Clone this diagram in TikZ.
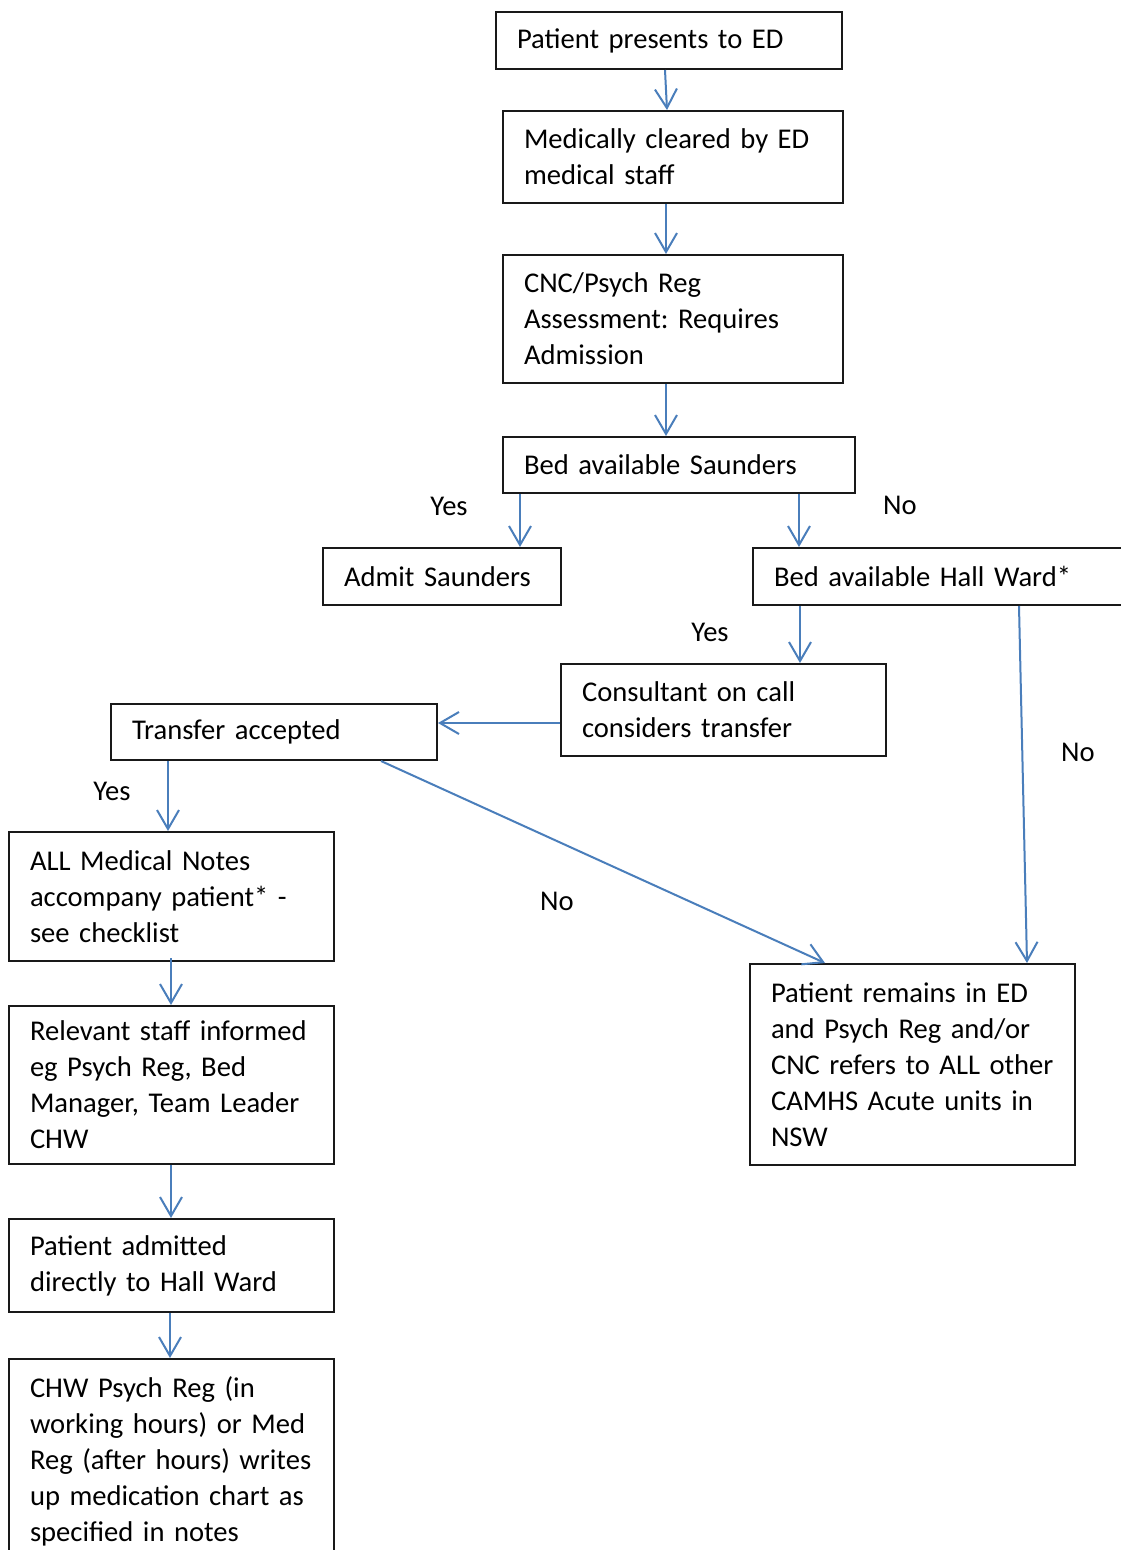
\documentclass[tikz,border=0pt]{standalone}
\usepackage{fontspec}
\setmainfont{Carlito}
\usetikzlibrary{arrows.meta}
\definecolor{conn}{RGB}{74,126,187}
\begin{document}
\frenchspacing
\begin{tikzpicture}[x=1pt,y=-1pt,
  box/.style={draw=black!90, line width=2pt, anchor=north west, align=left,
    inner xsep=21pt, inner ysep=0pt, font=\fontsize{28.6}{36}\selectfont\frenchspacing},
  lbl/.style={font=\fontsize{28.6}{36}\selectfont, inner sep=0pt},
  conn/.style={draw=conn, line width=2pt, -{Straight Barb[length=19pt,width=22pt,line width=2pt]}}]
\useasboundingbox[fill=white] (0,0) rectangle (1120,1550);
\newcommand\bx[6]{\node[box, text width=#4pt-42pt, minimum height=#5pt] (#1) at (#2,#3) {#6};}
\bx{b1}{495}{11}{346}{57}{\mbox{Patient presents to ED}}
\bx{b2}{502}{110}{340}{92}{\mbox{Medically cleared by ED}\\ \mbox{medical staff}}
\bx{b3}{502}{254}{340}{128}{\mbox{CNC/Psych Reg}\\ \mbox{Assessment: Requires}\\ \mbox{Admission}}
\bx{b4}{502}{436}{352}{56}{\mbox{Bed available Saunders}}
\bx{b5}{322}{547}{238}{57}{\mbox{Admit Saunders}}
\bx{b6}{752}{547}{380}{57}{\mbox{Bed available Hall Ward*}}
\bx{b7}{560}{663}{325}{92}{\mbox{Consultant on call}\\ \mbox{considers transfer}}
\bx{b8}{110}{703}{326}{56}{\mbox{Transfer accepted}}
\bx{b9}{8}{831}{325}{129}{\mbox{ALL Medical Notes}\\ \mbox{accompany patient* -}\\ \mbox{see checklist}}
\bx{b10}{749}{963}{325}{201}{\mbox{Patient remains in ED}\\ \mbox{and Psych Reg and/or}\\ \mbox{CNC refers to ALL other}\\ \mbox{CAMHS Acute units in}\\ \mbox{NSW}}
\bx{b11}{8}{1005}{325}{158}{\mbox{Relevant staff informed}\\ \mbox{eg Psych Reg, Bed}\\ \mbox{Manager, Team Leader}\\ \mbox{CHW}}
\bx{b12}{8}{1218}{325}{93}{\mbox{Patient admitted}\\ \mbox{directly to Hall Ward}}
\bx{b13}{8}{1358}{325}{204}{\mbox{CHW Psych Reg (in}\\ \mbox{working hours) or Med}\\ \mbox{Reg (after hours) writes}\\ \mbox{up medication chart as}\\ \mbox{specified in notes}}

\draw[conn] ([xshift=170pt]b1.south west) -- ([xshift=165pt]b2.north west);
\draw[conn] ([xshift=164pt]b2.south west) -- ([xshift=164pt]b3.north west);
\draw[conn] ([xshift=164pt]b3.south west) -- ([xshift=164pt]b4.north west);
\draw[conn] ([xshift=18pt]b4.south west) -- ([xshift=198pt]b5.north west);
\draw[conn] ([xshift=297pt]b4.south west) -- ([xshift=47pt]b6.north west);
\draw[conn] ([xshift=48pt]b6.south west) -- ([xshift=240pt]b7.north west);
\draw[conn] ([xshift=267pt]b6.south west) -- ([xshift=278pt]b10.north west);
\draw[conn] ([yshift=-13pt]b7.west) -- ([yshift=-13pt]b7.west -| b8.east);
\draw[conn] ([xshift=58pt]b8.south west) -- ([xshift=160pt]b9.north west);
\draw[conn] ([xshift=271pt]b8.south west) -- ([xshift=76pt]b10.north west);
\draw[conn] ([xshift=163pt,yshift=4pt]b9.south west) -- ([xshift=163pt]b11.north west);
\draw[conn] ([xshift=163pt]b11.south west) -- ([xshift=163pt]b12.north west);
\draw[conn] ([xshift=162pt]b12.south west) -- ([xshift=162pt]b13.north west);

\node[lbl] (l1) at (449,506) {Yes};
\node[lbl] (l2) at (900,505) {No};
\node[lbl] (l3) at (710,632) {Yes};
\node[lbl] (l4) at (1078,752) {No};
\node[lbl] (l5) at (112,791) {Yes};
\node[lbl] (l6) at (557,901) {No};
\end{tikzpicture}
\end{document}
